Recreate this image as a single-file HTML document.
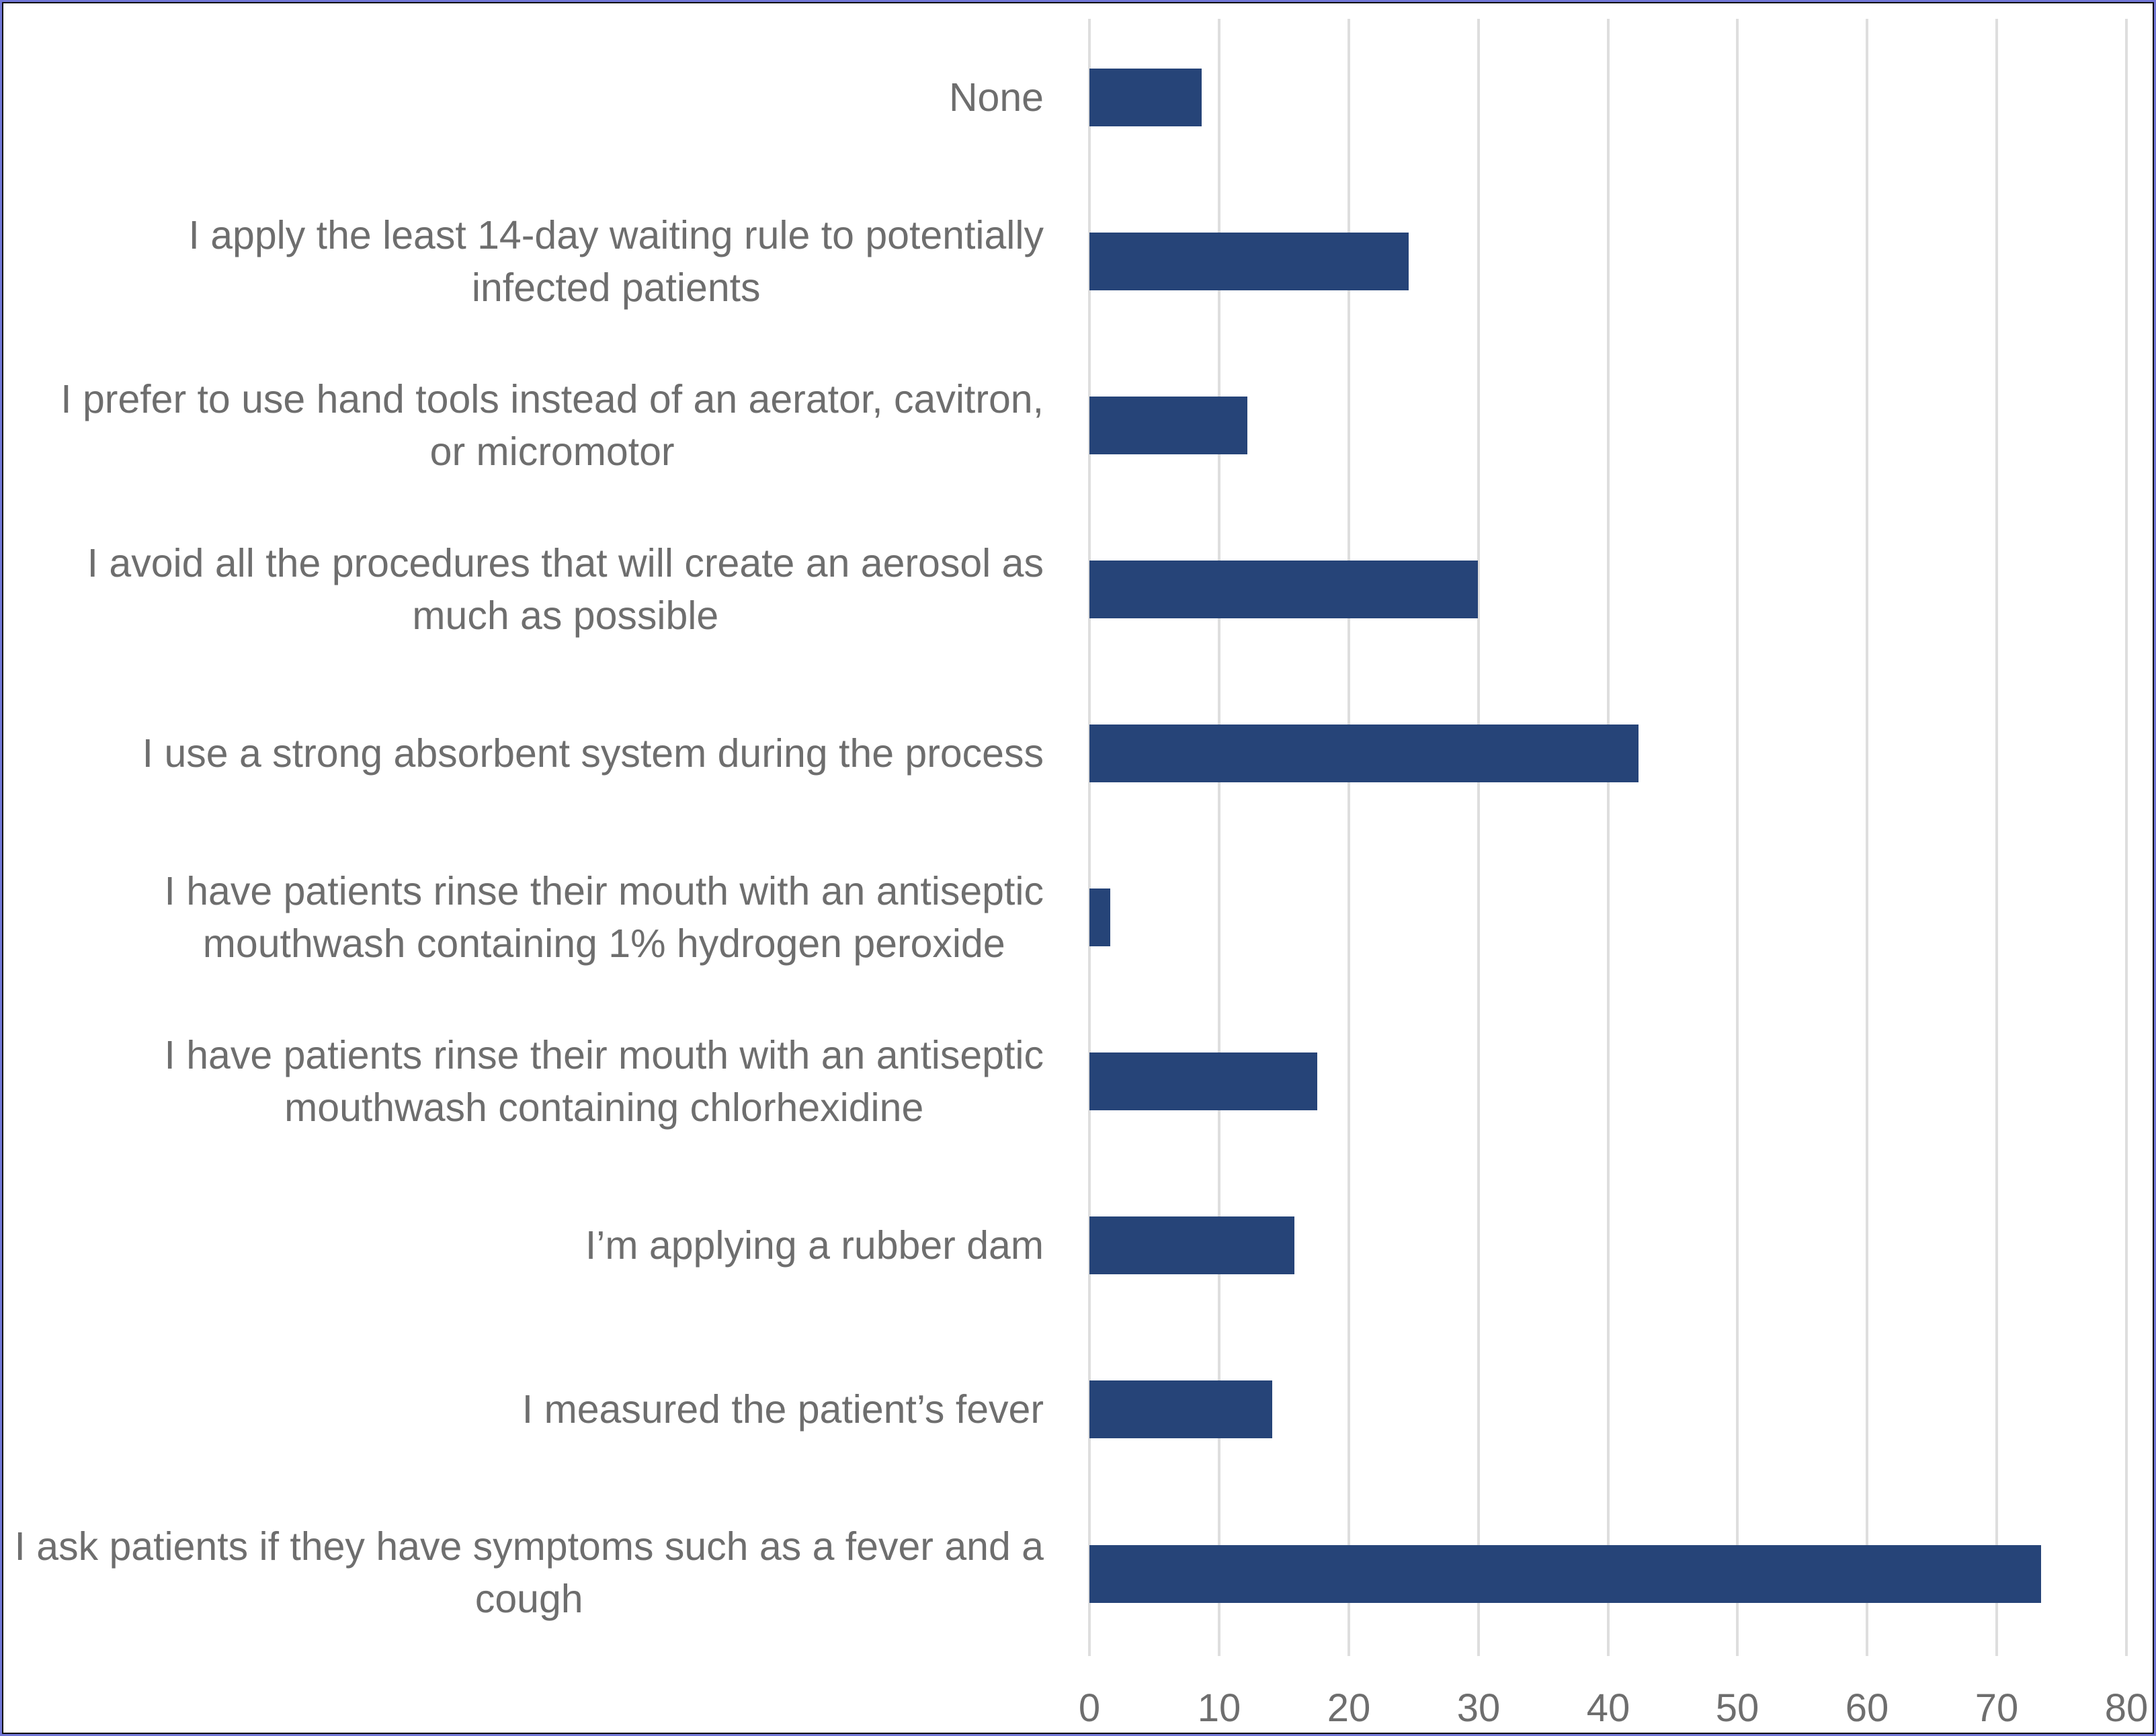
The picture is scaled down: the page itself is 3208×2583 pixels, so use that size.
<!DOCTYPE html>
<html><head><meta charset="utf-8"><style>
html,body{margin:0;padding:0;background:#fff}
#c{position:relative;width:3208px;height:2583px;box-sizing:border-box;border:3px solid #7076d6;outline:2px solid #111;outline-offset:-5px;overflow:hidden;font-family:"Liberation Sans",sans-serif;color:#6e6e6e}
.g{position:absolute;top:25px;height:2436px;width:4px;background:#dedede}
.b{position:absolute;height:86px;background:#264478;left:1618px}
.l{position:absolute;right:1652px;text-align:center;font-size:59px;line-height:78px;white-space:nowrap;transform:translateY(-50%)}
.t{position:absolute;top:2505px;font-size:58px;width:140px;margin-left:-70px;text-align:center}
</style></head><body><div id="c">
<div class="g" style="left:1616px"></div><div class="g" style="left:1809px"></div><div class="g" style="left:2002px"></div><div class="g" style="left:2195px"></div><div class="g" style="left:2388px"></div><div class="g" style="left:2580px"></div><div class="g" style="left:2773px"></div><div class="g" style="left:2966px"></div><div class="g" style="left:3159px"></div>

<div class="b" style="top:99px;width:167px"></div>
<div class="b" style="top:343px;width:475px"></div>
<div class="b" style="top:587px;width:235px"></div>
<div class="b" style="top:831px;width:578px"></div>
<div class="b" style="top:1075px;width:817px"></div>
<div class="b" style="top:1319px;width:31px"></div>
<div class="b" style="top:1563px;width:339px"></div>
<div class="b" style="top:1807px;width:305px"></div>
<div class="b" style="top:2051px;width:272px"></div>
<div class="b" style="top:2296px;width:1416px"></div>

<div class="l" style="top:142px">None</div>
<div class="l" style="top:386px">I apply the least 14-day waiting rule to potentially<br>infected patients</div>
<div class="l" style="top:630px">I prefer to use hand tools instead of an aerator, cavitron,<br>or micromotor</div>
<div class="l" style="top:874px">I avoid all the procedures that will create an aerosol as<br>much as possible</div>
<div class="l" style="top:1118px">I use a strong absorbent system during the process</div>
<div class="l" style="top:1362px">I have patients rinse their mouth with an antiseptic<br>mouthwash containing 1% hydrogen peroxide</div>
<div class="l" style="top:1606px">I have patients rinse their mouth with an antiseptic<br>mouthwash containing chlorhexidine</div>
<div class="l" style="top:1850px">I’m applying a rubber dam</div>
<div class="l" style="top:2094px">I measured the patient’s fever</div>
<div class="l" style="top:2337px">I ask patients if they have symptoms such as a fever and a<br>cough</div>

<div class="t" style="left:1618px">0</div><div class="t" style="left:1811px">10</div><div class="t" style="left:2004px">20</div><div class="t" style="left:2197px">30</div><div class="t" style="left:2390px">40</div><div class="t" style="left:2582px">50</div><div class="t" style="left:2775px">60</div><div class="t" style="left:2968px">70</div><div class="t" style="left:3161px">80</div>
</div></body></html>
